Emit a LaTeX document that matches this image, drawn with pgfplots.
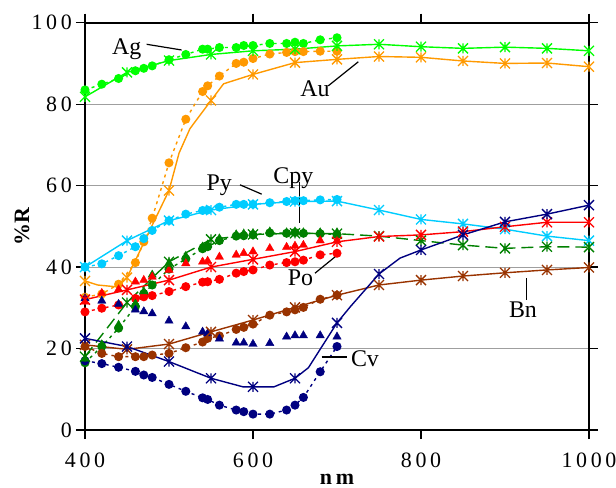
\documentclass[border=0pt]{standalone}
\usepackage{fontspec}
\setmainfont{Liberation Serif}
\usepackage{pgfplots}
\pgfplotsset{compat=1.18}

\definecolor{cAg}{HTML}{00FF00}
\definecolor{cAu}{HTML}{FF9900}
\definecolor{cPy}{HTML}{00CCFF}
\definecolor{cCpy}{HTML}{008000}
\definecolor{cPo}{HTML}{FF0000}
\definecolor{cBn}{HTML}{993300}
\definecolor{cCv}{HTML}{000080}

\pgfdeclareplotmark{xstar}{%
  \pgfpathmoveto{\pgfqpoint{0pt}{\pgfplotmarksize}}%
  \pgfpathlineto{\pgfqpoint{0pt}{-\pgfplotmarksize}}%
  \pgfpathmoveto{\pgfqpoint{-\pgfplotmarksize}{\pgfplotmarksize}}%
  \pgfpathlineto{\pgfqpoint{\pgfplotmarksize}{-\pgfplotmarksize}}%
  \pgfpathmoveto{\pgfqpoint{-\pgfplotmarksize}{-\pgfplotmarksize}}%
  \pgfpathlineto{\pgfqpoint{\pgfplotmarksize}{\pgfplotmarksize}}%
  \pgfusepathqstroke}

\pgfplotsset{
  lineS/.style={line width=1.4bp, no markers},
  starS/.style={only marks, mark=xstar, mark size=5bp, mark options={line width=1.3bp}},
  dotS/.style={mark=*, mark size=3.8bp, line width=1.4bp, dash pattern=on 3bp off 4bp, mark options={solid}},
  triS/.style={only marks, mark=triangle*, mark size=4.8bp},
}

\begin{document}
\begin{tikzpicture}
\begin{axis}[
  at={(0,0)}, anchor=south west,
  scale only axis, width=504bp, height=407.3bp,
  xmin=400, xmax=1000, ymin=0, ymax=100,
  clip=false,
  xtick={400,600,800,1000},
  xticklabels={\textrm{4\,0\,0},\textrm{6\,0\,0},\textrm{8\,0\,0},\textrm{1\,0\,0\,0}},
  ytick={0,20,40,60,80,100},
  yticklabels={\textrm{0},\textrm{2\,0},\textrm{4\,0},\textrm{6\,0},\textrm{8\,0},\textrm{1\,0\,0}},
  tick align=outside, major tick length=9bp,
  tick style={black, line width=1.2bp},
  axis line style={black, line width=1.8bp},
  ymajorgrids, grid style={gray!75, line width=0.8bp},
  ticklabel style={font=\fontsize{22}{24}\selectfont},
  xticklabel style={anchor=north, inner sep=0pt, yshift=-14bp},
  yticklabel style={anchor=east, inner sep=0pt, xshift=-4bp},
  xlabel={\textbf{n\,m}},
  ylabel={\textbf{\%R}},
  xlabel style={at={(axis description cs:0.5,0)}, anchor=base, inner sep=0pt, yshift=-54bp, font=\fontsize{22}{24}\selectfont},
  ylabel style={at={(axis description cs:-0.125,0.5)}, anchor=center, inner sep=0pt, font=\fontsize{22}{24}\selectfont},
]

% ---------------- measured dots ----------------
\addplot[dotS, color=cAg] coordinates {(400,83.5)(420,84.9)(440,86.3)(460,88.2)(470,88.8)(480,89.4)(500,90.9)(520,92.2)(540,93.5)(546,93.5)(560,93.9)(580,93.9)(589,94.4)(600,94.4)(620,94.9)(640,94.9)(650,95.2)(660,94.9)(680,95.8)(700,96.3)};
\addplot[dotS, color=cAu] coordinates {(400,32.6)(420,33.4)(440,35.8)(460,41.1)(470,46.2)(480,52.0)(500,65.6)(520,76.3)(540,83.1)(546,84.5)(560,86.9)(580,90.0)(589,90.3)(600,91.2)(620,92.3)(640,92.7)(650,92.9)(660,92.9)(680,93.0)(700,93.0)};
\addplot[dotS, color=cPy] coordinates {(400,40.0)(420,40.8)(440,42.8)(460,45.0)(470,47.0)(480,49.0)(500,51.4)(520,53.0)(540,53.9)(546,54.0)(560,54.7)(580,55.4)(589,55.4)(600,55.4)(620,55.8)(640,56.1)(650,56.3)(660,56.3)(680,56.5)(700,56.6)};
\addplot[dotS, color=cCpy] coordinates {(400,16.5)(420,20.5)(440,25.0)(460,30.3)(470,33.5)(480,35.6)(500,39.5)(520,42.0)(540,44.5)(546,45.0)(560,46.5)(580,47.6)(589,47.7)(600,47.9)(620,48.4)(640,48.3)(650,48.5)(660,48.3)(680,48.2)(700,48.0)};
\addplot[dotS, color=cPo] coordinates {(400,29.0)(420,29.9)(440,30.7)(460,32.3)(470,32.7)(480,33.0)(500,34.0)(520,35.2)(540,36.3)(546,36.4)(560,37.0)(580,38.5)(589,38.9)(600,39.3)(620,40.5)(640,41.1)(650,41.3)(660,41.7)(680,43.0)(700,43.4)};
\addplot[dotS, color=cBn] coordinates {(400,20.5)(420,18.8)(440,18.0)(460,18.0)(470,18.0)(480,18.4)(500,18.8)(520,20.2)(540,21.6)(546,22.5)(560,23.1)(580,24.7)(589,25.2)(600,26.0)(620,28.2)(640,29.0)(650,29.5)(660,30.1)(680,32.1)(700,33.1)};
\addplot[dotS, color=cCv] coordinates {(400,17.0)(420,16.3)(440,15.4)(460,14.4)(470,13.5)(480,12.9)(500,11.2)(520,9.5)(540,7.9)(546,7.5)(560,6.1)(580,4.9)(589,4.5)(600,3.9)(620,3.9)(640,4.9)(650,6.1)(660,8.0)(680,14.3)(700,20.5)};

% ---------------- triangles ----------------
\addplot[triS, color=cCpy] coordinates {(400,17.5)(420,21.0)(440,25.8)(460,31.0)(470,34.0)(480,38.1)(500,41.0)(520,42.7)(540,45.0)(546,45.5)(560,47.0)(580,48.0)(589,48.2)(600,48.3)(620,48.7)(640,48.5)(650,48.7)(660,48.5)(680,48.5)(700,48.5)};
\addplot[triS, color=cPo] coordinates {(400,31.5)(420,33.6)(440,34.5)(460,36.4)(470,36.8)(480,37.6)(500,39.3)(520,40.9)(540,41.3)(546,41.5)(560,42.5)(580,43.0)(589,43.4)(600,43.8)(620,44.6)(640,44.9)(650,45.2)(660,45.4)(680,46.5)(700,46.5)};
\addplot[triS, color=cCv] coordinates {(400,32.3)(420,31.7)(440,30.9)(460,29.5)(470,29.1)(480,28.6)(500,26.8)(520,25.4)(540,24.1)(546,23.7)(560,22.4)(580,21.4)(589,21.4)(600,21.1)(620,21.3)(640,22.9)(650,23.2)(660,23.2)(680,23.2)(700,22.9)};

% ---------------- calculated lines ----------------
\addplot[lineS, color=cAg] coordinates {(400,81.8)(450,87.8)(500,90.7)(550,92.2)(600,93.1)(650,93.5)(700,94.3)(750,94.7)(800,94.1)(850,93.7)(900,94.0)(950,93.7)(1000,93.1)};
\addplot[starS, color=cAg] coordinates {(400,81.8)(450,87.8)(500,90.7)(550,92.2)(600,93.1)(650,93.5)(700,94.3)(750,94.7)(800,94.1)(850,93.7)(900,94.0)(950,93.7)(1000,93.1)};

\addplot[lineS, color=cAu] coordinates {(400,36.6)(415,35.6)(435,35.2)(450,37.4)(462,42.5)(477,49.0)(500,58.8)(512,68.0)(525,74.0)(550,80.9)(565,85.0)(600,87.3)(650,90.2)(700,91.0)(750,91.7)(800,91.5)(850,90.6)(900,90.0)(950,90.1)(1000,89.2)};
\addplot[starS, color=cAu] coordinates {(400,36.6)(450,37.4)(500,58.8)(550,80.9)(600,87.3)(650,90.2)(700,91.0)(750,91.7)(800,91.5)(850,90.6)(900,90.0)(950,90.1)(1000,89.2)};

\addplot[lineS, color=cPy] coordinates {(400,40.0)(450,46.5)(500,51.4)(550,54.0)(600,55.4)(650,56.1)(700,56.2)(750,54.0)(800,51.7)(850,50.6)(900,49.3)(950,47.6)(1000,46.5)};
\addplot[starS, color=cPy] coordinates {(400,40.0)(450,46.5)(500,51.4)(550,54.0)(600,55.4)(650,56.1)(700,56.2)(750,54.0)(800,51.7)(850,50.6)(900,49.3)(950,47.6)(1000,46.5)};

\addplot[lineS, color=cCpy, dash pattern=on 12bp off 6bp] coordinates {(400,18.0)(450,31.3)(500,41.3)(550,46.8)(600,48.0)(650,48.3)(700,48.2)(750,47.6)(800,46.5)(850,45.4)(900,44.6)(950,45.0)(1000,44.9)};
\addplot[starS, color=cCpy] coordinates {(400,18.0)(450,31.3)(500,41.3)(550,46.8)(600,48.0)(650,48.3)(700,48.2)(750,47.6)(800,46.5)(850,45.4)(900,44.6)(950,45.0)(1000,44.9)};

\addplot[lineS, color=cPo] coordinates {(400,32.0)(450,34.4)(500,36.8)(550,40.0)(600,41.9)(650,43.8)(700,46.2)(750,47.5)(800,47.9)(850,48.7)(900,49.9)(950,51.0)(1000,51.0)};
\addplot[starS, color=cPo] coordinates {(400,32.0)(450,34.4)(500,36.8)(550,40.0)(600,41.9)(650,43.8)(700,46.2)(750,47.5)(800,47.9)(850,48.7)(900,49.9)(950,51.0)(1000,51.0)};

\addplot[lineS, color=cBn] coordinates {(400,20.9)(450,19.8)(500,21.1)(550,24.1)(600,27.0)(650,30.1)(700,33.1)(750,35.6)(800,36.8)(850,37.8)(900,38.6)(950,39.3)(1000,39.9)};
\addplot[starS, color=cBn] coordinates {(400,20.9)(450,19.8)(500,21.1)(550,24.1)(600,27.0)(650,30.1)(700,33.1)(750,35.6)(800,36.8)(850,37.8)(900,38.6)(950,39.3)(1000,39.9)};

\addplot[lineS, color=cCv] coordinates {(400,22.5)(450,20.5)(500,16.8)(550,12.7)(588,10.6)(600,10.6)(625,10.6)(650,12.7)(666,15.3)(700,26.3)(716,30.3)(750,38.3)(775,42.2)(800,44.2)(850,47.9)(900,51.1)(950,53.0)(1000,55.2)};
\addplot[starS, color=cCv] coordinates {(400,22.5)(450,20.5)(500,16.8)(550,12.7)(600,10.6)(650,12.7)(700,26.3)(750,38.3)(800,44.2)(850,47.9)(900,51.1)(950,53.0)(1000,55.2)};

% ---------------- labels ----------------
\begin{scope}[font=\fontsize{24}{26}\selectfont]
\node[anchor=base, inner sep=0pt] at (axis cs:449.6,92.1) {Ag};
\draw[black, line width=1.2bp] (axis cs:473.4,94.7) -- (axis cs:515,93.3);
\node[anchor=base, inner sep=0pt] at (axis cs:673.8,81.8) {Au};
\draw[black, line width=1.2bp] (axis cs:689.6,84.5) -- (axis cs:725.4,90.4);
\node[anchor=base, inner sep=0pt] at (axis cs:559.7,58.8) {Py};
\draw[black, line width=1.2bp] (axis cs:584.5,60.2) -- (axis cs:610.4,57.9);
\node[anchor=base, inner sep=0pt] at (axis cs:648,60.6) {Cpy};
\draw[black, line width=1.2bp] (axis cs:655.1,61.0) -- (axis cs:655.1,50.9);
\node[anchor=base, inner sep=0pt] at (axis cs:656.5,35.6) {Po};
\draw[black, line width=1.2bp] (axis cs:673.8,38.5) -- (axis cs:703.6,43.5);
\node[anchor=base, inner sep=0pt] at (axis cs:921.4,27.5) {Bn};
\draw[black, line width=1.2bp] (axis cs:925.8,37.2) -- (axis cs:925.8,31.9);
\node[anchor=base, fill=white, inner sep=2bp] at (axis cs:733.3,15.5) {Cv};
\draw[black, line width=1.2bp] (axis cs:681.8,17.9) -- (axis cs:711.5,17.9);
\end{scope}
\end{axis}
\pgfresetboundingbox
\path[use as bounding box] (-85bp,-58bp) rectangle (531bp,430bp);
\end{tikzpicture}
\end{document}
